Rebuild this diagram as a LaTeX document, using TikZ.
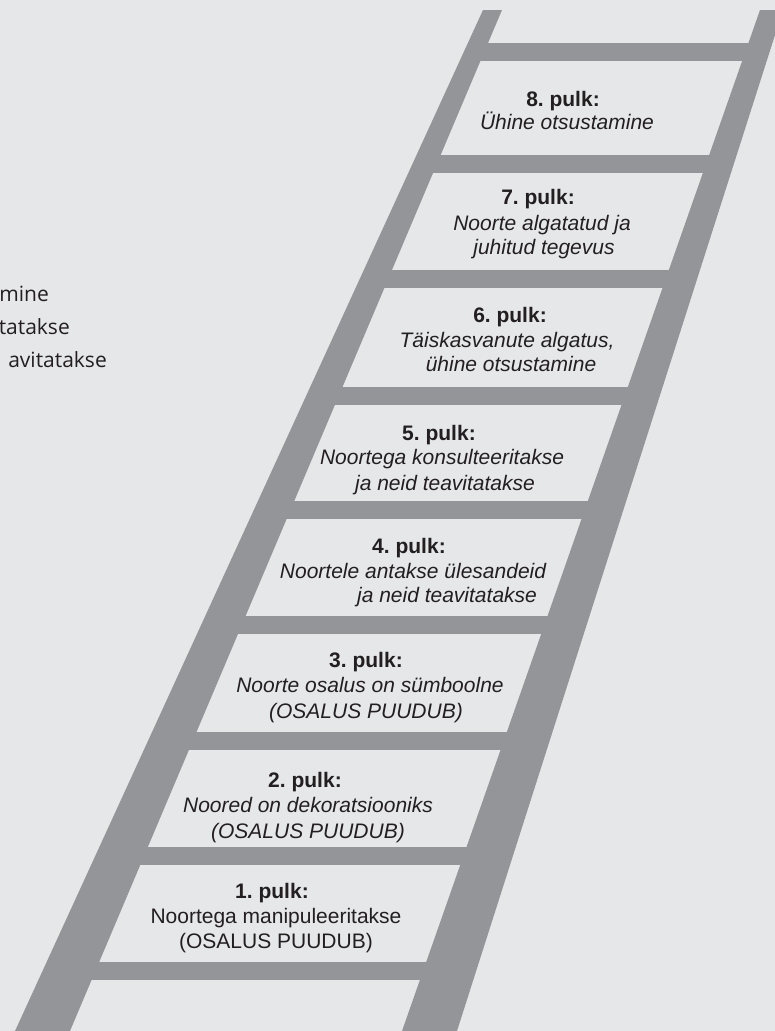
\documentclass[tikz,border=0pt]{standalone}
\usepackage{fontspec}
\setmainfont{Liberation Sans}
\newfontfamily\sidefont{Open Sans}
\frenchspacing

\definecolor{ladderbg}{HTML}{E6E7E8}
\definecolor{railgray}{HTML}{939598}
\definecolor{inkblack}{HTML}{231F20}

\begin{document}
\begin{tikzpicture}[x=1pt, y=-1pt,
  rail/.style={fill=railgray},
  rung/.style={fill=railgray},
  pulknr/.style={anchor=base, inner sep=0pt, text=inkblack, font=\fontsize{21}{24}\selectfont\bfseries},
  pulkkiri/.style={anchor=base, inner sep=0pt, text=inkblack, font=\fontsize{21}{24}\selectfont\itshape},
  pulktekst/.style={anchor=base, inner sep=0pt, text=inkblack, font=\fontsize{21}{24}\selectfont},
  servatekst/.style={anchor=base east, inner sep=0pt, text=inkblack, font=\sidefont\fontsize{21}{26}\selectfont}]
\useasboundingbox (0,0) rectangle (775,1031);
\clip (0,0) rectangle (775,1031);
\fill[ladderbg] (0,0) rectangle (775,1031);

% rails
\fill[rail] (483,10) -- (502,10) -- (70,1031) -- (15,1031) -- cycle;
\fill[rail] (760,10) -- (783,10) -- (457,1031) -- (402,1031) -- cycle;

% rungs
\fill[rung] (474,43) rectangle (757,61);
\fill[rung] (425,155) rectangle (720,173);
\fill[rung] (374,270) rectangle (681,288);
\fill[rung] (322,387) rectangle (642,405);
\fill[rung] (272,501) rectangle (604,519);
\fill[rung] (221,616) rectangle (565,634);
\fill[rung] (170,732) rectangle (527,750);
\fill[rung] (120,847) rectangle (488,865);
\fill[rung] (69,962) rectangle (450,980);

% text at the left edge
\node[servatekst] (serv1) at (49,301) {mine};
\node[servatekst] (serv2) at (70,334) {tatakse};
\node[servatekst] (serv3) at (107,367) {avitatakse};

% 8
\node[pulknr] (p8nr) at (563,106) {8. pulk:};
\node[pulkkiri] (p8a) at (567,129) {Ühine otsustamine};

% 7
\node[pulknr] (p7nr) at (538,204) {7. pulk:};
\node[pulkkiri] (p7a) at (542,230) {Noorte algatatud ja};
\node[pulkkiri] (p7b) at (544,254) {juhitud tegevus};

% 6
\node[pulknr] (p6nr) at (510,322) {6. pulk:};
\node[pulkkiri] (p6a) at (507,347) {Täiskasvanute algatus,};
\node[pulkkiri] (p6b) at (511,371) {ühine otsustamine};

% 5
\node[pulknr] (p5nr) at (439,440) {5. pulk:};
\node[pulkkiri] (p5a) at (442,464) {Noortega konsulteeritakse};
\node[pulkkiri] (p5b) at (445,490) {ja neid teavitatakse};

% 4
\node[pulknr] (p4nr) at (409,553) {4. pulk:};
\node[pulkkiri] (p4a) at (413,578) {Noortele antakse ülesandeid};
\node[pulkkiri] (p4b) at (447,602) {ja neid teavitatakse};

% 3
\node[pulknr] (p3nr) at (366,667) {3. pulk:};
\node[pulkkiri] (p3a) at (370,692) {Noorte osalus on sümboolne};
\node[pulkkiri] (p3b) at (366,718) {(OSALUS PUUDUB)};

% 2
\node[pulknr] (p2nr) at (305,787) {2. pulk:};
\node[pulkkiri] (p2a) at (308,812) {Noored on dekoratsiooniks};
\node[pulkkiri] (p2b) at (308,838) {(OSALUS PUUDUB)};

% 1
\node[pulknr] (p1nr) at (272,898) {1. pulk:};
\node[pulktekst] (p1a) at (276,923) {Noortega manipuleeritakse};
\node[pulktekst] (p1b) at (276,948) {(OSALUS PUUDUB)};
\end{tikzpicture}
\end{document}
